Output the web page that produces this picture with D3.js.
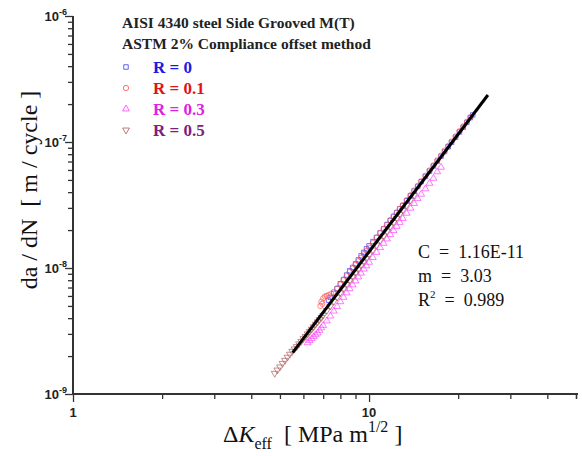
<!DOCTYPE html>
<html><head><meta charset="utf-8">
<script src="https://cdn.jsdelivr.net/npm/d3@7"></script>
<style>body{margin:0;background:#fff} svg{display:block}</style>
</head><body><svg id="c" width="582" height="456"></svg>
<script>
// ---------- data ----------
const seriesNames = ["R = 0", "R = 0.1", "R = 0.3", "R = 0.5"];
const legendTitle = ["AISI 4340 steel Side Grooved M(T)", "ASTM 2% Compliance offset method"];

const r0K  = [7.3,7.4,7.6,7.8,8.0,8.2,8.4,8.6,8.8,9.0,9.2,9.4,9.6,9.8,10.0,10.3,10.6,10.9,11.2,11.5,11.8,12.1,12.4,12.7,13.0,13.4,13.8,14.2,14.6,15.0,15.5,16.0,16.5,17.0,17.5,18.0,18.5,19.0,19.6,20.2,20.8,21.4,22.0,22.4];
const r0Da = [5.55e-9,5.85e-9,6.3e-9,6.85e-9,7.5e-9,8.1e-9,8.8e-9,9.5e-9,1.01e-8,1.08e-8,1.16e-8,1.25e-8,1.33e-8,1.42e-8,1.50e-8,1.62e-8,1.75e-8,1.90e-8,2.04e-8,2.20e-8,2.38e-8,2.56e-8,2.75e-8,2.95e-8,3.12e-8,3.42e-8,3.74e-8,4.08e-8,4.44e-8,4.84e-8,5.33e-8,5.87e-8,6.45e-8,7.05e-8,7.70e-8,8.40e-8,9.15e-8,9.95e-8,1.09e-7,1.20e-7,1.31e-7,1.43e-7,1.56e-7,1.64e-7];

const r1K  = [6.85,6.9,6.95,7.0,7.1,7.2,7.3,7.45,7.6,7.8,8.0,8.2,8.4,8.6,8.8,9.0,9.2,9.4,9.6,9.8,10.0,10.3,10.6,10.9,11.2,11.5,11.8,12.1,12.4,12.7,13.0,13.4,13.8,14.2,14.6,15.0,15.5,16.0,16.5,17.0,17.5,18.0,18.5,19.0,19.6,20.2,20.8,21.4,22.0];
const r1Da = [5.0e-9,5.4e-9,5.2e-9,5.75e-9,5.95e-9,6.0e-9,6.1e-9,6.25e-9,6.45e-9,6.9e-9,7.4e-9,8.0e-9,8.6e-9,9.3e-9,9.9e-9,1.06e-8,1.13e-8,1.21e-8,1.29e-8,1.37e-8,1.45e-8,1.58e-8,1.74e-8,1.90e-8,2.05e-8,2.22e-8,2.40e-8,2.58e-8,2.76e-8,2.95e-8,3.16e-8,3.46e-8,3.78e-8,4.12e-8,4.48e-8,4.88e-8,5.40e-8,5.95e-8,6.52e-8,7.15e-8,7.80e-8,8.55e-8,9.30e-8,1.01e-7,1.11e-7,1.22e-7,1.33e-7,1.45e-7,1.58e-7];

const r3K  = [6.2,6.3,6.4,6.5,6.6,6.7,6.8,6.9,7.0,7.2,7.4,7.6,7.8,8.0,8.2,8.4,8.6,8.8,9.0,9.2,9.4,9.6,9.8,10.0,10.3,10.6,10.9,11.2,11.5,11.8,12.1,12.4,12.7,13.0,13.4,13.8,14.2,14.6,15.0,15.5,16.0,16.5,17.0,17.5];
const r3Da = [2.55e-9,2.65e-9,2.75e-9,2.85e-9,2.95e-9,3.05e-9,3.2e-9,3.35e-9,3.5e-9,3.8e-9,4.15e-9,4.55e-9,4.95e-9,5.4e-9,5.85e-9,6.35e-9,6.85e-9,7.35e-9,7.9e-9,8.5e-9,9.1e-9,9.8e-9,1.04e-8,1.11e-8,1.21e-8,1.33e-8,1.45e-8,1.57e-8,1.70e-8,1.84e-8,1.98e-8,2.14e-8,2.30e-8,2.47e-8,2.72e-8,2.98e-8,3.25e-8,3.55e-8,3.85e-8,4.25e-8,4.70e-8,5.15e-8,5.8e-8,6.3e-8];

const r5K  = [4.8,4.9,5.0,5.1,5.2,5.3,5.4,5.5,5.6,5.7,5.8,5.9,6.0,6.1,6.2,6.3,6.4,6.5,6.6,6.7,6.8,6.9,7.0,7.2,7.4,7.6,7.8,8.0,8.2,8.4,8.6,8.8,9.0,9.2,9.4,9.6,9.8,10.0,10.3,10.6,10.9,11.2,11.5,11.8,12.1,12.4,12.7,13.0,13.4,13.8,14.2];
const r5Da = [1.46e-9,1.55e-9,1.64e-9,1.75e-9,1.85e-9,1.96e-9,2.07e-9,2.18e-9,2.28e-9,2.38e-9,2.5e-9,2.62e-9,2.75e-9,2.86e-9,3.0e-9,3.14e-9,3.27e-9,3.42e-9,3.58e-9,3.74e-9,3.9e-9,4.05e-9,4.22e-9,4.6e-9,4.98e-9,5.42e-9,5.86e-9,6.35e-9,6.85e-9,7.4e-9,7.95e-9,8.55e-9,9.15e-9,9.8e-9,1.05e-8,1.12e-8,1.19e-8,1.27e-8,1.39e-8,1.52e-8,1.66e-8,1.80e-8,1.96e-8,2.13e-8,2.30e-8,2.48e-8,2.67e-8,2.87e-8,3.15e-8,3.46e-8,3.78e-8];

const fitK  = [5.52, 25.2];
const fitDa = [2.13e-9, 2.36e-7];

const xTickLabels = [1, 10];
const yTickDecades = [1e-9, 1e-8, 1e-7, 1e-6];
const fitC = "1.16E-11", fitM = "3.03", fitR2 = "0.989";
// ---------- chart ----------
const svg = d3.select("#c");
const x = d3.scaleLog().domain([1, 50]).range([73, 576]);
const y = d3.scaleLog().domain([1e-9, 1e-6]).range([394, 16]);
const NB = "\u00a0";

const axisColor = "#333";
const xTicks = [];
for (let d = 1; d <= 10; d *= 10) for (let k = 1; k <= 9; k++) if (k*d <= 50) xTicks.push(k*d);
xTicks.push(50);
const yTicks = [];
for (let d = 1e-9; d < 1e-6*0.99; d *= 10) for (let k = 1; k <= 9; k++) yTicks.push(k*d);
yTicks.push(1e-6);
const isMajor = v => Math.abs(Math.log10(v) - Math.round(Math.log10(v))) < 1e-6;

const gx = svg.append("g").attr("transform", "translate(0,394)")
  .call(d3.axisBottom(x).tickValues(xTicks).tickFormat("").tickSizeOuter(0));
const gy = svg.append("g").attr("transform", "translate(73,0)")
  .call(d3.axisLeft(y).tickValues(yTicks).tickFormat("").tickSizeOuter(0));
[gx, gy].forEach(g => {
  g.select(".domain").attr("stroke", axisColor).attr("stroke-width", 2);
  g.selectAll(".tick line").attr("stroke", axisColor).attr("stroke-width", 1.3);
});
gx.select(".domain").attr("d", "M72,0H578");
gy.select(".domain").attr("d", "M0,16V395");
gx.selectAll(".tick line").attr("y2", d => isMajor(d) ? 8 : 5);
gy.selectAll(".tick line").attr("x2", d => isMajor(d) ? -8 : -5);

// tick labels
const tickFont = "'Liberation Sans', Arial, sans-serif";
svg.append("g").selectAll("text").data(xTickLabels).join("text")
  .attr("x", d => x(d)).attr("y", 417).attr("text-anchor", "middle")
  .attr("font-family", tickFont).attr("font-weight", "bold").attr("font-size", 13)
  .attr("fill", "#222").text(d => d);
const yl = svg.append("g").selectAll("text").data(yTickDecades).join("text")
  .attr("x", 67).attr("y", d => y(d) + 5).attr("text-anchor", "end")
  .attr("font-family", tickFont).attr("font-weight", "bold").attr("font-size", 13).attr("fill", "#222");
yl.append("tspan").text("10");
yl.append("tspan").attr("dy", -6).attr("font-size", 9).text(d => Math.round(Math.log10(d)));

// axis titles
const serif = "'Liberation Serif', 'Times New Roman', serif";
svg.append("text").attr("transform", "translate(37,190) rotate(-90)")
  .attr("text-anchor", "middle").attr("font-family", serif).attr("font-size", 24)
  .attr("fill", "#111").text(`da / dN${NB}${NB}[ m / cycle ]`);
const xt = svg.append("text").attr("x", 223).attr("y", 442)
  .attr("font-family", serif).attr("font-size", 24).attr("fill", "#111");
xt.append("tspan").text("Δ");
xt.append("tspan").attr("font-style", "italic").text("K");
xt.append("tspan").attr("font-size", 16).attr("dy", 7).text("eff");
xt.append("tspan").attr("dy", -7).text(`${NB}${NB}[ MPa m`);
xt.append("tspan").attr("font-size", 16).attr("dy", -10).text("1/2");
xt.append("tspan").attr("dy", 10).text(`${NB}]`);

// series
const series = [
  {K: r0K, D: r0Da, color: "#3a3aff", text: "#1c1ce0", shape: "square"},
  {K: r1K, D: r1Da, color: "#ff5050", text: "#e01414", shape: "circle"},
  {K: r3K, D: r3Da, color: "#ff3cff", text: "#e020e0", shape: "tri"},
  {K: r5K, D: r5Da, color: "#a85a5a", text: "#7e1e7e", shape: "itri"}
];
const sym = {
  square: d3.symbol().type(d3.symbolSquare).size(20),
  circle: d3.symbol().type(d3.symbolCircle).size(22),
  tri: d3.symbol().type(d3.symbolTriangle).size(20),
  itri: d3.symbol().type(d3.symbolTriangle).size(20)
};
const drawOrder = [3, 2, 0, 1];
drawOrder.forEach(i => {
  const s = series[i];
  svg.append("g").selectAll("path").data(s.K.map((k, j) => [k, s.D[j]])).join("path")
    .attr("d", sym[s.shape]())
    .attr("transform", d => `translate(${x(d[0])},${y(d[1])})` + (s.shape === "itri" ? " rotate(180)" : ""))
    .attr("fill", "none").attr("stroke", s.color).attr("stroke-width", 0.8).attr("opacity", 0.85);
});

// fit line
svg.append("path").datum(fitK.map((k, j) => [k, fitDa[j]]))
  .attr("d", d3.line().x(d => x(d[0])).y(d => y(d[1])))
  .attr("stroke", "#000").attr("stroke-width", 3).attr("fill", "none");

// legend
svg.append("g").selectAll("text").data(legendTitle).join("text")
  .attr("x", 122).attr("y", (d, i) => 28 + i * 21)
  .attr("font-family", serif).attr("font-weight", "bold").attr("font-size", 15.5).attr("fill", "#222").text(d => d);
series.forEach((s, i) => {
  const yy = 67 + i * 21;
  svg.append("path").attr("d", sym[s.shape]())
    .attr("transform", `translate(126,${yy})` + (s.shape === "itri" ? " rotate(180)" : ""))
    .attr("fill", "none").attr("stroke", s.color).attr("stroke-width", 0.8);
  svg.append("text").attr("x", 153).attr("y", yy + 6)
    .attr("font-family", serif).attr("font-weight", "bold").attr("font-size", 17)
    .attr("fill", s.text).text(seriesNames[i]);
});

// fit annotation
const ann = svg.append("g").attr("font-family", serif).attr("font-size", 18).attr("fill", "#111");
ann.append("text").attr("x", 418).attr("y", 258).text(`C${NB}${NB}=${NB}${NB}${fitC}`);
ann.append("text").attr("x", 418).attr("y", 282).text(`m${NB}${NB}=${NB}${NB}${fitM}`);
const r2 = ann.append("text").attr("x", 418).attr("y", 306);
r2.append("tspan").text("R");
r2.append("tspan").attr("font-size", 11).attr("dy", -8).text("2");
r2.append("tspan").attr("dy", 8).text(`${NB}${NB}=${NB}${NB}${fitR2}`);
</script></body></html>
